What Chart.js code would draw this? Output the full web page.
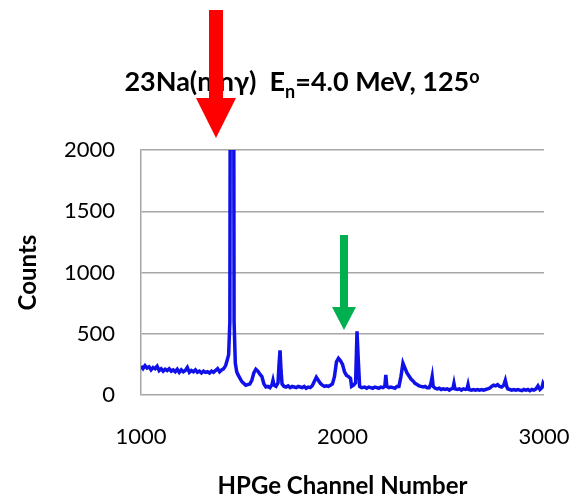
<!DOCTYPE html>
<html><head><meta charset="utf-8">
<script src="https://cdn.jsdelivr.net/npm/chart.js@4"></script>
<style>html,body{margin:0;padding:0;background:#fff}canvas{display:block}</style>
</head><body>
<canvas id="c" width="572" height="501"></canvas>
<script>
const titleMain = "23Na(n,n\u03b3)  E";
const titleSub = "n";
const titleRest = "=4.0 MeV, 125";
const titleSup = "o";
const xAxisTitle = "HPGe Channel Number";
const yAxisTitle = "Counts";
const xTickValues = [1000, 2000, 3000];
const yTickValues = [0, 500, 1000, 1500, 2000];

const channels = [
1000,1010,1020,1030,1040,1050,1060,1070,1080,1090,1100,1110,1120,1130,1140,1150,1160,1170,1180,1190,
1200,1210,1220,1230,1240,1250,1260,1270,1280,1290,1300,1310,1320,1330,1340,1350,1360,1370,1380,1390,
1400,1410,1420,1428,1435,1441,1446,1457,1462,1468,1475,1480,1490,1500,1510,1520,1530,1540,1550,1560,
1570,1580,1590,1600,1610,1620,1630,1640,1650,1655,1660,1670,1680,1685,1690,1695,1700,1710,1720,1730,
1740,1750,1760,1770,1780,1790,1800,1810,1820,1830,1840,1850,1860,1870,1880,1890,1900,1910,1920,1930,
1940,1950,1960,1970,1980,1990,2000,2010,2020,2030,2040,2045,2055,2065,2072,2078,2085,2095,2110,2120,
2130,2140,2150,2160,2170,2180,2190,2200,2210,2215,2220,2230,2240,2250,2260,2270,2280,2290,2300,2310,
2320,2330,2340,2350,2360,2370,2380,2390,2400,2410,2420,2430,2438,2445,2450,2460,2470,2480,2490,2500,
2510,2520,2530,2540,2548,2553,2558,2570,2580,2590,2600,2610,2618,2623,2628,2640,2650,2660,2670,2680,
2690,2700,2710,2720,2730,2740,2750,2760,2770,2780,2790,2800,2808,2815,2820,2830,2840,2850,2860,2870,
2880,2890,2900,2910,2920,2930,2940,2950,2960,2970,2980,2990,2995,3000
];
const counts = [
235,215,240,220,230,205,225,215,235,200,215,195,210,200,215,195,205,190,210,185,
205,190,200,225,185,200,190,205,185,195,180,195,185,190,180,195,185,200,215,190,
205,215,240,285,330,600,6000,6000,600,260,190,170,140,110,95,80,85,90,120,180,
210,195,170,150,90,65,70,60,85,120,80,70,100,250,365,200,90,70,65,75,
60,70,65,60,70,65,60,70,55,65,60,75,110,145,120,95,80,70,75,70,
80,90,150,270,300,280,250,190,160,150,135,70,80,100,520,300,70,60,65,55,
65,60,55,65,60,55,65,60,70,165,70,60,65,60,55,70,70,150,260,220,
180,155,130,115,95,85,75,70,65,70,60,60,90,150,70,55,50,55,45,50,
45,50,40,50,55,95,50,45,50,40,50,45,50,85,45,40,45,40,45,40,
45,40,45,50,55,70,80,75,85,70,65,80,120,70,50,45,40,45,40,45,
40,35,45,40,45,35,45,40,50,75,45,60,95,80
];

const points = channels.map((c, i) => ({x: c, y: counts[i]}));

const FONT = "Lato, 'Open Sans', sans-serif";

const overlay = {
  id: 'overlay',
  afterDraw(chart) {
    const ctx = chart.ctx;
    ctx.save();
    const big = "bold 27px " + FONT, small = "bold 18px " + FONT;
    ctx.font = big; const w1 = ctx.measureText(titleMain).width;
    ctx.font = small; const w2 = ctx.measureText(titleSub).width;
    ctx.font = big; const w3 = ctx.measureText(titleRest).width;
    ctx.font = small; const w4 = ctx.measureText(titleSup).width;
    const total = w1 + w2 + w3 + w4;
    let x = 302 - total / 2;
    const base = 91;
    ctx.fillStyle = '#000';
    ctx.textBaseline = 'alphabetic';
    ctx.textAlign = 'left';
    ctx.font = big; ctx.fillText(titleMain, x, base); x += w1;
    ctx.font = small; ctx.fillText(titleSub, x, base + 7); x += w2;
    ctx.font = big; ctx.fillText(titleRest, x, base); x += w3;
    ctx.font = small; ctx.fillText(titleSup, x, base - 8);
    ctx.fillStyle = '#ff0000';
    ctx.beginPath();
    ctx.moveTo(209, 10); ctx.lineTo(223, 10); ctx.lineTo(223, 98); ctx.lineTo(236, 98);
    ctx.lineTo(216, 138); ctx.lineTo(196, 98); ctx.lineTo(209, 98); ctx.closePath(); ctx.fill();
    ctx.fillStyle = '#00b050';
    ctx.beginPath();
    ctx.moveTo(340, 235); ctx.lineTo(348, 235); ctx.lineTo(348, 307); ctx.lineTo(356, 307);
    ctx.lineTo(344, 330); ctx.lineTo(332, 307); ctx.lineTo(340, 307); ctx.closePath(); ctx.fill();
    ctx.restore();
  }
};

new Chart(document.getElementById('c'), {
  type: 'scatter',
  data: { datasets: [{
    data: points, showLine: true, borderColor: '#1010e8', borderWidth: 3.5,
    pointRadius: 0, tension: 0, clip: 0
  }]},
  options: {
    responsive: false, animation: false, devicePixelRatio: 1,
    layout: { padding: { top: 150, right: 0, left: 0, bottom: 0 } },
    plugins: { legend: { display: false }, tooltip: { enabled: false } },
    scales: {
      x: {
        type: 'linear', min: 1000, max: 3000,
        afterBuildTicks: s => { s.ticks = xTickValues.map(v => ({value: v})); },
        afterFit: s => { s.height = 106; s.paddingRight = 28; },
        grid: { display: false, drawTicks: false },
        border: { display: false },
        ticks: { color: '#000', font: { family: FONT, size: 22 }, padding: 29, maxRotation: 0, callback: v => String(v) },
        title: { display: true, text: xAxisTitle, color: '#000', font: { family: FONT, size: 24, weight: 'bold' }, padding: { top: 0, bottom: 0 } }
      },
      y: {
        min: 0, max: 2000,
        afterBuildTicks: s => { s.ticks = yTickValues.map(v => ({value: v})); },
        afterFit: s => { s.width = 141; },
        grid: { color: '#a6a6a6', lineWidth: 1.5, drawTicks: false },
        border: { display: true, color: '#a6a6a6', width: 1.5 },
        ticks: { color: '#000', font: { family: FONT, size: 22 }, padding: 26, callback: v => String(v) },
        title: { display: true, text: yAxisTitle, color: '#000', font: { family: FONT, size: 24, weight: 'bold' }, padding: { top: 14, bottom: 0 } }
      }
    }
  },
  plugins: [overlay]
});
</script>
</body></html>
